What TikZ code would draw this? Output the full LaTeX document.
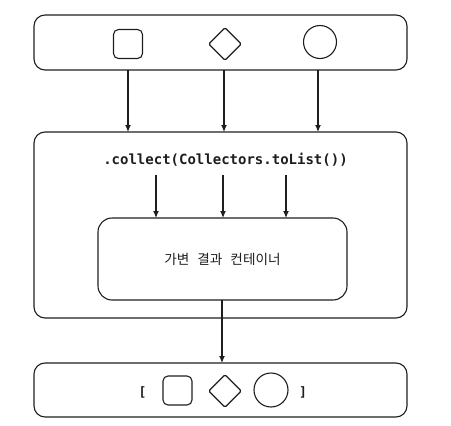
\documentclass[tikz,border=0pt]{standalone}
\usepackage{fontspec}
\newfontfamily\monofont{DejaVu Sans Mono}
\newfontfamily\krfont{Noto Sans CJK KR}
\usetikzlibrary{arrows.meta,shapes.geometric}
\definecolor{ink}{HTML}{1E1E1E}
\begin{document}
\begin{tikzpicture}[x=1pt,y=-1pt,
  line width=1.1pt, draw=ink,
  panel/.style={draw=ink,rounded corners=11pt,minimum width=373pt,inner sep=0pt},
  sq/.style={draw=ink,rounded corners=5pt,minimum size=29pt,inner sep=0pt},
  dia/.style={draw=ink,diamond,minimum size=33pt,inner sep=0pt,rounded corners=1.5pt},
  circ/.style={draw=ink,circle,minimum size=33pt,inner sep=0pt},
  arr/.style={-{Latex[length=7pt,width=6pt]},draw=ink,line width=1.2pt},
  brk/.style={font=\monofont\bfseries\fontsize{13}{15}\selectfont,text=ink,inner sep=0pt}]
\useasboundingbox (0,0) rectangle (451,426);
% top panel
\node[panel,minimum height=55pt] (top) at (220.5,42.5) {};
\node[sq] (s1) at (128,44) {};
\node[dia] (d1) at (225,44) {};
\node[circ] (c1) at (320,42) {};
% middle panel
\node[panel,minimum height=186pt] (mid) at (220.5,225) {};
\node[font=\monofont\bfseries\fontsize{14}{16}\selectfont,text=ink,inner sep=0pt] (code) at (225.5,160) {.collect(Collectors.toList())};
\node[draw=ink,rounded corners=14pt,minimum width=249pt,minimum height=82pt,inner sep=0pt] (inner) at (222.5,259) {};
\node[font=\krfont\fontsize{13.6}{15}\selectfont,text=ink,inner sep=0pt] (lbl) at (222.5,259) {가변\hspace{8pt}결과\hspace{8pt}컨테이너};
% bottom panel
\node[panel,minimum height=54pt] (bot) at (220.5,390) {};
\node[brk] (lb) at (142.5,392) {[};
\node[sq] (s2) at (177.5,390.5) {};
\node[dia] (d2) at (225,391) {};
\node[circ,minimum size=34pt] (c2) at (271,390) {};
\node[brk] (rb) at (303,392) {]};
% coordinates for arrows
\coordinate (a1s) at (128,70);
\coordinate (a1e) at (128,132);
\coordinate (a2s) at (224,70);
\coordinate (a2e) at (224,132);
\coordinate (a3s) at (318,70);
\coordinate (a3e) at (318,132);
\draw[arr] (a1s) -- (a1e);
\draw[arr] (a2s) -- (a2e);
\draw[arr] (a3s) -- (a3e);
\coordinate (b1s) at (156,175);
\coordinate (b1e) at (156,218);
\coordinate (b2s) at (223,175);
\coordinate (b2e) at (223,218);
\coordinate (b3s) at (286,175);
\coordinate (b3e) at (286,218);
\draw[arr] (b1s) -- (b1e);
\draw[arr] (b2s) -- (b2e);
\draw[arr] (b3s) -- (b3e);
\coordinate (cs) at (222,300);
\coordinate (ce) at (222,363);
\draw[arr] (cs) -- (ce);
\end{tikzpicture}
\end{document}
